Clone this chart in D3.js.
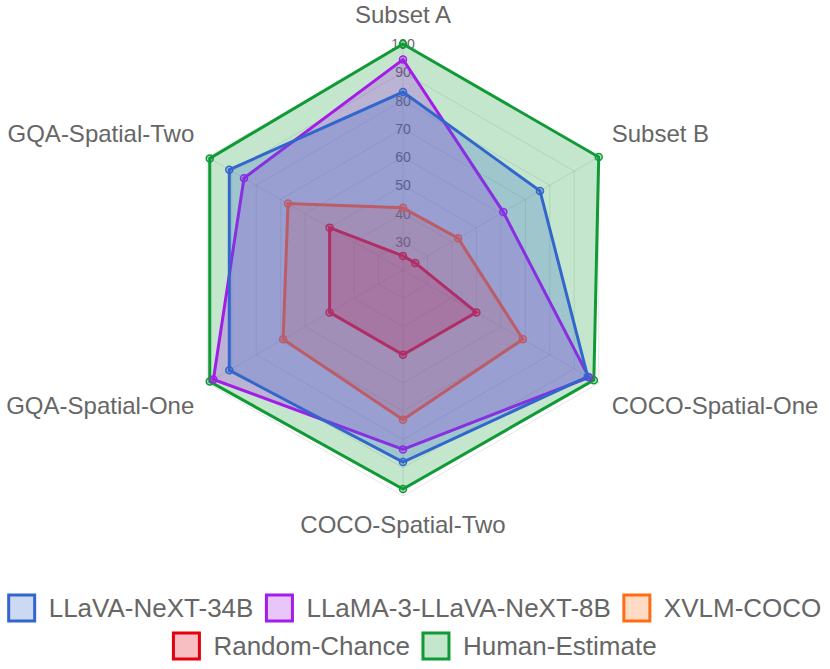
<!DOCTYPE html>
<html><head><meta charset="utf-8">
<script src="https://cdn.jsdelivr.net/npm/d3@7"></script>
<style>html,body{margin:0;padding:0;background:#fff;}svg{display:block;}</style>
</head><body>
<svg id="chart" width="830" height="669"></svg>
<script>
const categories = ["Subset A","Subset B","COCO-Spatial-One","COCO-Spatial-Two","GQA-Spatial-One","GQA-Spatial-Two"];
const seriesNames = ["LLaVA-NeXT-34B","LLaMA-3-LLaVA-NeXT-8B","XVLM-COCO","Random-Chance","Human-Estimate"];
const llava34 = [83, 76, 95.5, 88, 91, 91];
const llama3 = [94.5, 61, 96, 83.5, 97.5, 85];
const xvlm = [42, 42.5, 69, 73, 69, 67];
const randomChance = [25, 25, 50, 50, 50, 50];
const human = [100, 100, 98, 97.5, 99, 99];
const tickValues = [30, 40, 50, 60, 70, 80, 90, 100];
const scaleMin = 20, scaleMax = 100;

const seriesValues = [llava34, llama3, xvlm, randomChance, human];
const colors = ["#3366cc", "#a31ce8", "#ff6d12", "#e3000f", "#0f9a36"];

const svg = d3.select("#chart");
const cx = 403, cy = 270, R = 226;
const font = "'Liberation Sans', Arial, Helvetica, sans-serif";
const r = d3.scaleLinear().domain([scaleMin, scaleMax]).range([0, R]);
const n = categories.length;
const ang = d3.scaleLinear().domain([0, n]).range([0, 2 * Math.PI]);
const pt = (i, v) => [cx + r(v) * Math.sin(ang(i)), cy - r(v) * Math.cos(ang(i))];

// grid
const g = svg.append("g");
tickValues.forEach(t => {
  g.append("path")
    .attr("d", d3.line()(d3.range(n).map(i => pt(i, t))) + "Z")
    .attr("fill", "none").attr("stroke", "rgba(0,0,0,0.1)").attr("stroke-width", 1);
});
d3.range(n).forEach(i => {
  const p = pt(i, scaleMax);
  g.append("line").attr("x1", cx).attr("y1", cy).attr("x2", p[0]).attr("y2", p[1])
    .attr("stroke", "rgba(0,0,0,0.1)").attr("stroke-width", 1);
});
// tick labels
tickValues.forEach(t => {
  g.append("text").attr("x", cx).attr("y", cy - r(t)).attr("dy", "0.36em")
    .attr("text-anchor", "middle").attr("font-family", font).attr("font-size", 14)
    .attr("fill", "#666").text(t);
});
// point labels
categories.forEach((c, i) => {
  const a = ang(i);
  const p = pt(i, scaleMax);
  const s = Math.sin(a), co = Math.cos(a);
  let x, y, anchor;
  if (Math.abs(s) < 1e-6) {
    anchor = "middle"; x = p[0];
    y = co > 0 ? p[1] - 29 : p[1] + 29;
  } else {
    anchor = s > 0 ? "start" : "end";
    x = p[0] + (s > 0 ? 13 : -13);
    y = p[1] + (co > 0 ? -23 : 23);
  }
  svg.append("text").attr("x", x).attr("y", y).attr("dy", "0.35em")
    .attr("text-anchor", anchor).attr("font-family", font).attr("font-size", 24)
    .attr("fill", "#666").text(c);
});

// datasets: draw last first so first is on top
const dg = svg.append("g");
for (let k = seriesValues.length - 1; k >= 0; k--) {
  const vals = seriesValues[k];
  const pts = vals.map((v, i) => pt(i, v));
  const col = d3.color(colors[k]);
  const fillCol = d3.color(colors[k]).copy({opacity: 0.25});
  dg.append("path").attr("d", d3.line()(pts) + "Z")
    .attr("fill", fillCol.formatRgb()).attr("stroke", col.formatHex())
    .attr("stroke-width", 3).attr("stroke-linejoin", "miter");
  pts.forEach(p => {
    dg.append("circle").attr("cx", p[0]).attr("cy", p[1]).attr("r", 3.5)
      .attr("fill", fillCol.formatRgb()).attr("stroke", col.formatHex()).attr("stroke-width", 1.5);
  });
}

// legend
const rows = [[0, 1, 2], [3, 4]];
const rowY = [608, 646];
const boxW = 26, gapText = 14, itemPad = 13, fs = 26;
const lg = svg.append("g");
rows.forEach((row, ri) => {
  const items = row.map(k => {
    const gi = lg.append("g");
    gi.append("rect").attr("width", boxW).attr("height", boxW)
      .attr("fill", d3.color(colors[k]).copy({opacity: 0.25}).formatRgb())
      .attr("stroke", colors[k]).attr("stroke-width", 3);
    const t = gi.append("text").attr("x", boxW + gapText).attr("y", boxW / 2).attr("dy", "0.35em")
      .attr("font-family", font).attr("font-size", fs).attr("fill", "#666").text(seriesNames[k]);
    const w = boxW + gapText + t.node().getComputedTextLength();
    return {gi, w};
  });
  const total = d3.sum(items, d => d.w) + itemPad * (items.length - 1);
  let x = (830 - total) / 2;
  items.forEach(it => {
    it.gi.attr("transform", `translate(${x},${rowY[ri] - boxW / 2})`);
    x += it.w + itemPad;
  });
});
</script>
</body></html>
